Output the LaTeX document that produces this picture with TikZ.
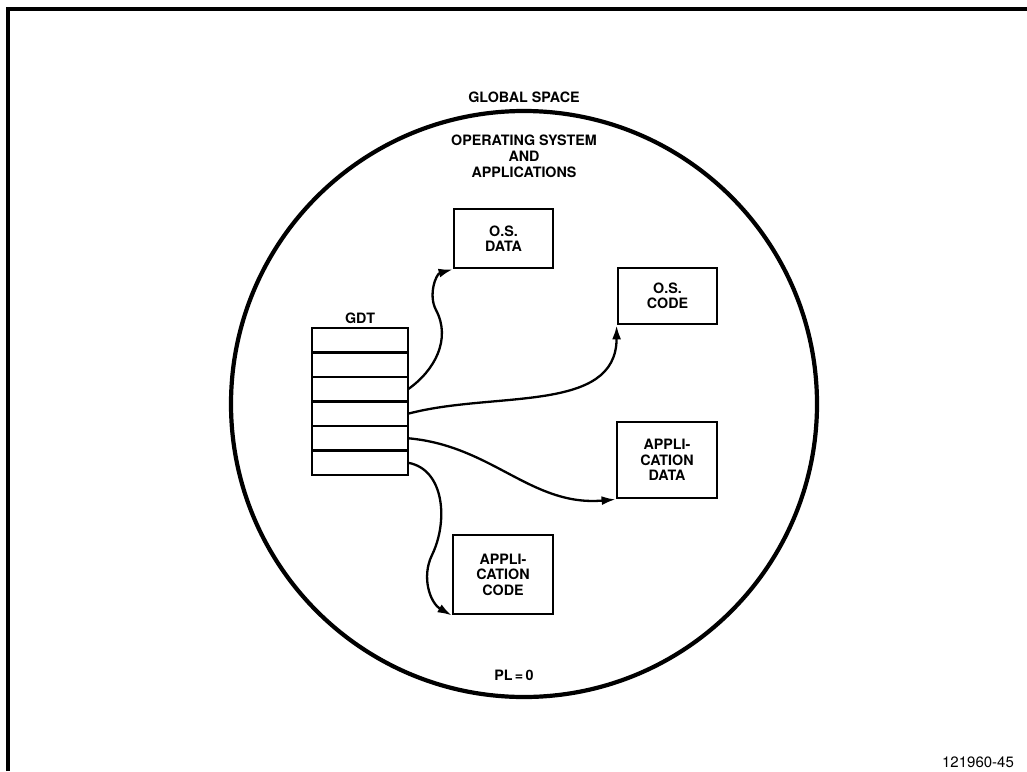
\documentclass[tikz,border=0pt]{standalone}
\usepackage{fontspec}
\setmainfont{TeX Gyre Heros}
\usetikzlibrary{positioning,arrows.meta}

\begin{document}
\begin{tikzpicture}[x=1pt, y=1pt, lbl/.style={font=\bfseries\fontsize{14.3}{15.5}\selectfont, align=center, inner sep=2pt}, box/.style={draw, line width=2.8pt, minimum width=99pt, lbl}, row/.style={draw, line width=2.6pt, minimum width=96pt, minimum height=24.5pt, outer sep=0pt, inner sep=0pt}, a/.style={-{Latex[length=14pt,width=9pt]}, line width=2.3pt}]
		\useasboundingbox (0,0) rectangle (1027,-771);
		% frame
		\draw[line width=3.8pt] (8,-771) -- (8,-9) -- (1027,-9);

		\node[circle, draw, line width=4.2pt, minimum size=586pt, inner sep=0pt] (space) at (524,-404) {};
		\node[lbl, above=4pt of space] (space_label) {GLOBAL SPACE};
		\node[lbl, font=\bfseries\fontsize{14.3}{16}\selectfont] (os_label) at (524,-156) {OPERATING SYSTEM\\AND\\APPLICATIONS};
		\node[lbl] (pl_label) at (514,-675) {PL\,=\,0};

		% GDT
		\node[row] (r1) at (360,-340.25) {};
		\node[row, below=0pt of r1] (r2) {};
		\node[row, below=0pt of r2] (r3) {};
		\node[row, below=0pt of r3] (r4) {};
		\node[row, below=0pt of r4] (r5) {};
		\node[row, below=0pt of r5] (r6) {};
		\node[lbl, above=2pt of r1] (gdt_label) {GDT};

		\node[box, minimum height=59pt] (osdata) at (503.5,-238.5) {O.S.\\DATA};
		\node[box, minimum height=56pt] (oscode) at (667.5,-296) {O.S.\\CODE};
		\node[box, minimum width=100pt, minimum height=76pt] (appdata) at (667,-460) {APPLI-\\CATION\\DATA};
		\node[box, minimum width=100pt, minimum height=79pt] (appcode) at (503,-574.5) {APPLI-\\CATION\\CODE};

		\coordinate (k1) at (436,-310);
		\coordinate (k4) at (432,-555);

		\draw[a] (r3.east) to[out=35, in=-62] (k1) to[out=118, in=195] (osdata.south west);
		\draw[a] (r4.east) to[out=15, in=-90] (oscode.south west);
		\draw[a] (r5.east) to[out=-5, in=185] (appdata.south west);
		\draw[a] (r6.east) to[out=-10, in=64] (k4) to[out=-116, in=150] (appcode.south west);

		\node[font=\fontsize{15}{18}\selectfont] (fig_no) at (978,-762) {121960-45};
	\end{tikzpicture}
\end{document}
